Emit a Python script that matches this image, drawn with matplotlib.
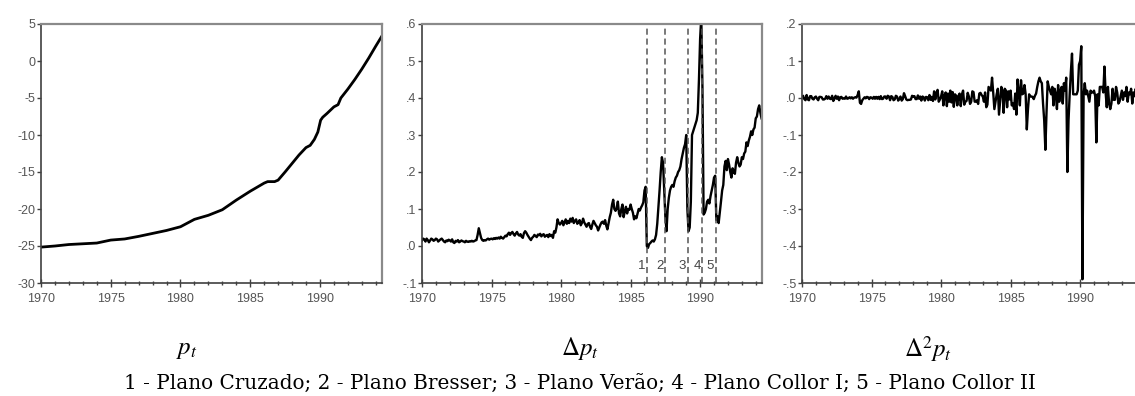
#!/usr/bin/env python3
"""Brazilian price level: p_t, its first and second differences (1970-1994)."""

import numpy as np
import matplotlib
matplotlib.use('Agg')
import matplotlib.pyplot as plt
from matplotlib.ticker import MultipleLocator

plt.rcParams['font.family'] = ['Liberation Sans', 'DejaVu Sans']
plt.rcParams['mathtext.fontset'] = 'stix'

# log price level, read at irregular dates
p_years = [1970.0, 1971.0, 1972.0, 1973.0, 1974.0, 1975.0, 1976.0, 1977.0,
           1978.0, 1979.0, 1980.0, 1981.0, 1982.0, 1983.0, 1984.0, 1985.0,
           1986.0, 1986.25, 1986.75, 1987.0, 1987.5, 1988.0, 1988.5, 1989.0,
           1989.3, 1989.6, 1989.85, 1990.05, 1990.2, 1990.5, 1991.0, 1991.3,
           1991.5, 1992.0, 1992.5, 1993.0, 1993.5, 1994.0, 1994.42]
p_vals = [-25.15, -25.0, -24.8, -24.7, -24.6, -24.2, -24.05, -23.7,
          -23.3, -22.9, -22.4, -21.4, -20.85, -20.1, -18.8, -17.6,
          -16.5, -16.3, -16.3, -16.1, -15.0, -13.85, -12.7, -11.7,
          -11.4, -10.6, -9.6, -8.0, -7.6, -7.1, -6.2, -5.9,
          -5.0, -3.8, -2.5, -1.1, 0.4, 2.0, 3.3]

# monthly first difference, Jan 1970 - Jun 1994
dp = [
    .015, .020, .018, .012, .020, .016, .010, .015, .020, .018, .014, .016,  # 1970
    .020, .018, .012, .015, .018, .020, .016, .012, .010, .015, .013, .017,  # 1971
    .015, .012, .018, .010, .008, .014, .012, .016, .010, .012, .015, .013,  # 1972
    .012, .010, .014, .012, .011, .013, .012, .014, .012, .013, .015, .016,  # 1973
    .030, .048, .035, .022, .016, .014, .016, .015, .018, .020, .017, .019,  # 1974
    .020, .018, .021, .019, .022, .020, .023, .020, .025, .022, .020, .024,  # 1975
    .028, .026, .032, .036, .030, .035, .038, .032, .028, .034, .038, .031,  # 1976
    .028, .032, .025, .022, .035, .040, .036, .030, .025, .020, .016, .022,  # 1977
    .025, .030, .027, .024, .031, .029, .033, .026, .030, .032, .025, .028,  # 1978
    .030, .024, .032, .027, .030, .022, .040, .036, .050, .072, .062, .058,  # 1979
    .062, .068, .056, .064, .072, .060, .068, .062, .074, .066, .076, .062,  # 1980
    .068, .072, .060, .064, .070, .056, .062, .074, .064, .058, .052, .060,  # 1981
    .062, .052, .046, .058, .068, .062, .056, .052, .042, .050, .058, .064,  # 1982
    .066, .060, .070, .055, .045, .062, .078, .090, .112, .125, .100, .095,  # 1983
    .102, .120, .088, .080, .100, .112, .078, .094, .106, .088, .100, .098,  # 1984
    .112, .100, .090, .072, .080, .075, .088, .100, .096, .104, .110, .118,  # 1985
    .150, .160, .000, -.005, .005, .008, .012, .015, .012, .018, .030, .060,  # 1986
    .105, .150, .200, .240, .225, .150, .080, .040, .100, .130, .150, .160,  # 1987
    .165, .160, .175, .185, .190, .200, .205, .215, .235, .250, .265, .275,  # 1988
    .300, .100, .040, .050, .120, .300, .310, .320, .330, .340, .360, .450,  # 1989
    .560, .620, .430, .085, .090, .100, .120, .125, .115, .135, .150, .165,  # 1990
    .185, .190, .070, .080, .062, .090, .120, .150, .165, .215, .230, .205,  # 1991
    .235, .220, .200, .185, .210, .200, .195, .225, .240, .225, .215, .220,  # 1992
    .240, .235, .250, .255, .280, .270, .285, .295, .310, .300, .315, .320,  # 1993
    .345, .350, .370, .380, .360, .345,                                      # 1994
]

# monthly second difference, Feb 1970 - Jun 1994
d2p = [
    .005, -.003, -.006, .008, -.004, -.006, .005, .005, -.002, -.004, .002,  # 1970
    .004, -.002, -.006, .003, .003, .002, -.004, -.004, -.002, .005, -.002, .004,  # 1971
    -.002, -.003, .006, -.008, -.002, .006, -.002, .004, -.006, .002, .003, -.002,  # 1972
    -.001, -.002, .004, -.002, -.001, .002, -.001, .002, -.002, .001, .002, .001,  # 1973
    .008, .018, -.013, -.016, -.006, -.002, .002, -.001, .003, .002, -.003, .002,  # 1974
    .001, -.002, .003, -.002, .003, -.002, .003, -.003, .005, -.003, -.002, .004,  # 1975
    .004, -.002, .006, .004, -.006, .005, .003, -.006, -.004, .006, .004, -.007,  # 1976
    -.003, .004, -.007, -.003, .013, .005, -.004, -.006, -.005, -.005, -.004, .006,  # 1977
    .003, .005, -.003, -.003, .007, -.002, .004, -.007, .004, .002, -.007, .003,  # 1978
    .002, -.006, .008, -.005, .003, -.008, .018, -.004, .014, .022, -.010, -.004,  # 1979
    .004, .018, -.020, .008, .015, -.022, .012, -.010, .020, -.012, .016, -.024,  # 1980
    .010, .006, -.020, .006, .012, -.022, .010, .020, -.018, -.010, -.008, .014,  # 1981
    .004, -.016, -.010, .018, .016, -.010, -.010, -.006, -.016, .012, .014, .008,  # 1982
    .004, -.010, .015, -.025, -.018, .030, .025, .020, .055, .015, -.030, -.010,  # 1983
    .010, .025, -.045, -.008, .030, .020, -.040, .025, .020, -.025, .018, -.004,  # 1984
    .020, -.020, -.015, -.030, .012, -.045, .050, .018, -.020, .048, .010, .012,  # 1985
    .035, .010, -.085, -.030, .010, .004, .004, .003, -.003, .006, .012, .030,  # 1986
    .045, .055, .045, .040, -.015, -.060, -.140, -.040, .045, .030, .020, .010,  # 1987
    .030, -.020, .025, .010, -.030, .035, -.010, .020, .030, -.015, .040, .020,  # 1988
    .055, -.200, -.060, .010, .070, .120, .010, .010, .010, .010, .020, .090,  # 1989
    .100, .140, -.490, .010, .040, .010, .020, .005, -.010, .020, .015, .015,  # 1990
    .020, .005, -.120, .010, -.020, .030, .030, .030, .015, .085, .015, -.025,  # 1991
    .030, -.015, -.030, -.015, .025, -.005, -.005, .030, .015, -.015, -.010, .005,  # 1992
    .020, -.005, .015, .005, .030, -.010, .015, .010, .025, -.015, .015, .005,  # 1993
    .025, .005, .020, .010, -.020, -.015,                                    # 1994
]

# stabilisation plans marked on the middle panel
plan_dates = [1986.17, 1987.5, 1989.1, 1990.17, 1991.12]
plan_labels = ['1', '2', '3', '4', '5']

p_ticks = [5, 0, -5, -10, -15, -20, -25, -30]
p_ticklabels = ['5', '0', '-5', '-10', '-15', '-20', '-25', '-30']
dp_ticks = [.6, .5, .4, .3, .2, .1, .0, -.1]
dp_ticklabels = ['.6', '.5', '.4', '.3', '.2', '.1', '.0', '-.1']
d2p_ticks = [.2, .1, .0, -.1, -.2, -.3, -.4, -.5]
d2p_ticklabels = ['.2', '.1', '.0', '-.1', '-.2', '-.3', '-.4', '-.5']
year_ticks = [1970, 1975, 1980, 1985, 1990]

titles = [r'$p_t$', r'$\Delta p_t$', r'$\Delta^2 p_t$']
caption = ('1 - Plano Cruzado; 2 - Plano Bresser; 3 - Plano Verão; '
           '4 - Plano Collor I; 5 - Plano Collor II')

x_dp = 1970 + np.arange(len(dp)) / 12.0
x_d2p = 1970 + (np.arange(len(d2p)) + 1) / 12.0

fig = plt.figure(figsize=(11.35, 3.96), dpi=100)
W, H = 1135.0, 396.0
bottom = 1 - 283 / H
height = (283 - 24) / H
ax1 = fig.add_axes([41 / W, bottom, 341 / W, height])
ax2 = fig.add_axes([422 / W, bottom, 340 / W, height])
ax3 = fig.add_axes([802 / W, bottom, 340 / W, height])

ax1.plot(p_years, p_vals, color='black', linewidth=2.0)
ax2.plot(x_dp, dp, color='black', linewidth=1.7)
ax3.plot(x_d2p, d2p, color='black', linewidth=1.7)

for d, lab in zip(plan_dates, plan_labels):
    ax2.axvline(d, color='#555555', linestyle=(0, (4, 2.5)), linewidth=1.1)
    ax2.text(d - 0.12, -0.055, lab, ha='right', va='center',
             fontsize=9.5, color='#444444')

setups = [(ax1, p_ticks, p_ticklabels, (-30, 5)),
          (ax2, dp_ticks, dp_ticklabels, (-0.1, 0.6)),
          (ax3, d2p_ticks, d2p_ticklabels, (-0.5, 0.2))]
for ax, ticks, labels, ylim in setups:
    ax.set_xlim(1970, 1994.45)
    ax.set_ylim(*ylim)
    ax.set_yticks(ticks)
    ax.set_yticklabels(labels)
    ax.set_xticks(year_ticks)
    ax.set_xticklabels([str(y) for y in year_ticks])
    ax.xaxis.set_minor_locator(MultipleLocator(1))
    ax.tick_params(axis='x', which='major', direction='inout', length=6,
                   width=1, colors='#404040', labelsize=9, pad=4,
                   labelcolor='#555555')
    ax.tick_params(axis='x', which='minor', direction='inout', length=3.5,
                   width=1, colors='#404040')
    ax.tick_params(axis='y', direction='out', length=3, width=1,
                   colors='#404040', labelsize=9, pad=1,
                   labelcolor='#555555')
    for side in ['left', 'bottom']:
        ax.spines[side].set_color('#404040')
        ax.spines[side].set_linewidth(1.2)
    for side in ['top', 'right']:
        ax.spines[side].set_color('#8a8a8a')
        ax.spines[side].set_linewidth(1.6)

for xc, t in zip([187, 580, 928], titles):
    fig.text(xc / W, 1 - 349 / H, t, ha='center', va='center', fontsize=18)

fig.text(580 / W, 1 - 383 / H, caption, ha='center', va='center',
         fontsize=14.4, family=['DejaVu Serif'])

fig.savefig('out.png', dpi=100)
